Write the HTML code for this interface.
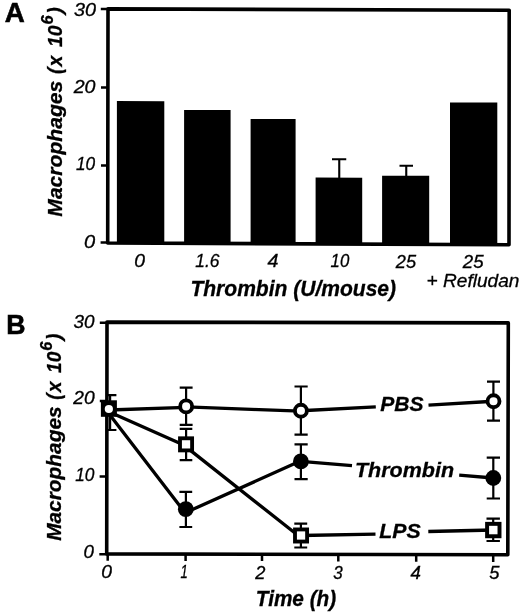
<!DOCTYPE html>
<html><head><meta charset="utf-8">
<style>
html,body{margin:0;padding:0;background:#fff;}
svg{display:block;filter:blur(0.35px);}
text{font-family:"Liberation Sans",Arial,Helvetica,sans-serif;fill:#000;}
.t{font-style:italic;stroke:#000;stroke-width:.3px;}
.b{font-style:italic;font-weight:bold;stroke:#000;stroke-width:.3px;}
.p{font-weight:bold;stroke:#000;stroke-width:.6px;}
</style></head><body>
<svg width="520" height="614" viewBox="0 0 520 614">
<rect width="520" height="614" fill="#fff"/>
<!-- Panel A -->
<g fill="#000">
<path d="M116.9 101.1L164.3 101.25L164.3 243.5377306733167L116.9 243.5377306733167Z"/>
<path d="M184.1 109.9L230.6 110.05000000000001L230.6 243.82261845386535L184.1 243.82261845386535Z"/>
<path d="M250.6 118.9L295.6 119.05000000000001L295.6 244.10453865336657L250.6 244.10453865336657Z"/>
<path d="M315.6 177.6L362.2 177.75L362.2 244.38009975062343L315.6 244.38009975062343Z"/>
<path d="M382.1 175.7L429.2 175.85L429.2 244.6620199501247L382.1 244.6620199501247Z"/>
<path d="M450 102.4L497.3 102.55000000000001L497.3 244.9498753117207L450 244.9498753117207Z"/>
</g>
<g stroke="#000" stroke-width="2.1" fill="none">
<path d="M339.25 178V159.25M332 159.25H346.25"/>
<path d="M406.25 176V165.75M399.5 165.75H413"/>
</g>
<path d="M108 8.85L509.2 10.2L509 244.7L107.7 243Z" fill="none" stroke="#000" stroke-width="3.6" stroke-linejoin="round"/>
<path stroke="#000" stroke-width="2.5" d="M100.8 9H108M101 87.6H108M101 165.5H108M100.6 242.5H108"/>
<text class="p" font-size="27" transform="translate(4.74,21.75) scale(1.026,1.016)">A</text>
<text class="t" font-size="18" transform="translate(74.03,15.65) scale(1.099,1.015)">30</text>
<text class="t" font-size="18" transform="translate(73.67,92.64) scale(1.091,1.023)">20</text>
<text class="t" font-size="18" transform="translate(76.01,170.34) scale(0.959,1.038)">10</text>
<text class="t" font-size="18" transform="translate(84.06,247.64) scale(1.114,1.023)">0</text>
<text class="t" font-size="18" transform="translate(134.20,266.76) scale(1.070,0.977)">0</text>
<text class="t" font-size="18" transform="translate(195.26,266.96) scale(0.968,0.977)">1.6</text>
<text class="t" font-size="18" transform="translate(267.60,267.20) scale(1.095,1.000)">4</text>
<text class="t" font-size="18" transform="translate(330.57,267.06) scale(0.932,0.977)">10</text>
<text class="t" font-size="18" transform="translate(395.75,267.55) scale(1.012,0.985)">25</text>
<text class="t" font-size="18" transform="translate(462.76,267.75) scale(1.037,0.985)">25</text>
<text class="t" font-size="18.6" transform="translate(426.47,286.75) scale(1.028,1.000)">+ Refludan</text>
<text class="b" font-size="21.3" transform="translate(190.42,296.20) scale(0.988,1.000)">Thrombin (U/mouse)</text>
<g transform="translate(62,217) rotate(-90) scale(1.0,1)"><text class="b" font-size="21" transform="translate(0.35,0) scale(1.004,1)">Macrophages</text><text class="b" font-size="21" transform="translate(142.95,0) scale(0.906,1)">(</text><text class="b" font-size="21" transform="translate(150.43,0) scale(0.933,1)">x</text><text class="b" font-size="21" transform="translate(169.97,0) scale(0.917,1)">10</text><text class="b" font-size="16" transform="translate(192.49,-9.3) scale(1.029,1)">6</text><text class="b" font-size="21" transform="translate(203.03,0) scale(0.965,1)">)</text></g>
<!-- Panel B -->
<text class="p" font-size="27" transform="translate(6.22,334.04) scale(0.988,1.058)">B</text>
<text class="t" font-size="18" transform="translate(73.54,327.64) scale(1.048,1.023)">30</text>
<text class="t" font-size="18" transform="translate(73.27,404.35) scale(1.067,0.996)">20</text>
<text class="t" font-size="18" transform="translate(75.16,481.29) scale(0.962,1.035)">10</text>
<text class="t" font-size="18" transform="translate(83.62,557.64) scale(1.038,1.023)">0</text>
<text class="t" font-size="18" transform="translate(101.20,577.74) scale(1.070,1.023)">0</text>
<text class="t" font-size="18" transform="translate(180.52,578.20) scale(0.729,1.056)">1</text>
<text class="t" font-size="18" transform="translate(255.25,578.80) scale(1.015,1.051)">2</text>
<text class="t" font-size="18" transform="translate(333.26,578.74) scale(0.944,1.031)">3</text>
<text class="t" font-size="18" transform="translate(410.40,579.20) scale(1.042,1.056)">4</text>
<text class="t" font-size="18" transform="translate(489.25,579.24) scale(1.020,1.059)">5</text>
<text class="b" font-size="21.3" transform="translate(255.84,606.20) scale(0.975,1.000)">Time (h)</text>
<text class="b" font-size="21.3" transform="translate(380.25,410.96) scale(0.989,0.944)">PBS</text>
<text class="b" font-size="21.3" transform="translate(354.98,476.97) scale(1.010,0.921)">Thrombin</text>
<text class="b" font-size="21.3" transform="translate(379.25,538.06) scale(1.000,0.970)">LPS</text>
<g transform="translate(61,541.2) rotate(-90) scale(0.99,1)"><text class="b" font-size="21" transform="translate(0.35,0) scale(1.004,1)">Macrophages</text><text class="b" font-size="21" transform="translate(142.95,0) scale(0.906,1)">(</text><text class="b" font-size="21" transform="translate(150.43,0) scale(0.933,1)">x</text><text class="b" font-size="21" transform="translate(169.97,0) scale(0.917,1)">10</text><text class="b" font-size="16" transform="translate(192.49,-9.3) scale(1.029,1)">6</text><text class="b" font-size="21" transform="translate(203.03,0) scale(0.965,1)">)</text></g>
<path d="M107 322.1L508.3 322.9L507.8 554.7L106.7 553.9Z" fill="none" stroke="#000" stroke-width="3.6" stroke-linejoin="round"/>
<path stroke="#000" stroke-width="2.5" d="M99.8 322.7H107M99.8 401H107M99.6 476.5H107M99.3 554.2H107"/>
<path stroke="#000" stroke-width="2.5" d="M107.7 554V560.7M185.6 554V560.9M262 554V561.1M338.3 554.3V561.4M416.2 554.4V561.7M493.2 554.6V562"/>
<g stroke="#000" stroke-width="2.2" fill="none">
<path d="M110.1 395.1V430M106 395.1H116.4M106 430H116.4"/>
<path d="M186.1 387.7V424.9M179.7 387.7H192.6M179.7 424.9H192.6"/>
<path d="M186.1 428.9V460.2M179.7 428.9H192.3M179.7 460.2H192.3"/>
<path d="M185.9 491.85V527M179.4 491.85H192.2M179.4 527H192.2"/>
<path d="M300.9 386.5V434.7M294.5 386.5H307.7M294.5 434.7H307.7"/>
<path d="M300.9 444.3V479.1M294.5 444.3H307.7M294.5 479.1H307.7"/>
<path d="M300.9 523.55V547.5M294.3 523.55H307.2M294.3 547.5H307.2"/>
<path d="M493.4 381.7V420.6M487 381.7H500M487 420.6H500"/>
<path d="M493.3 457.7V498.5M486.7 457.7H500M486.7 498.5H500"/>
<path d="M493.2 518.55V541M486.5 518.55H499.9M486.5 541H499.9"/>
</g>
<g stroke="#000" stroke-width="3.3" fill="none">
<path d="M108.9 410L186.1 407.3M186.1 406.9L300.9 411.2M300.9 410.75L375.8 406.8M428.5 405.2L493.5 401.25"/>
<path d="M105.3 409L182.4 509.2M185.8 512.5L300.9 460.8M300.9 461.4L352 465.7M459.2 475.2L493.3 478"/>
<path d="M108.9 411.8L186 446M186 446.9L301 537.8M301 535.5L375.5 534.2M428.3 531.5L493.3 530"/>
</g>
<rect x="100.9" y="400.3" width="16" height="16.5" fill="#000"/>
<circle cx="108.85" cy="409" r="4.1" fill="#fff"/>
<rect x="180.0" y="438.3" width="12.1" height="12.1" fill="#fff" stroke="#000" stroke-width="3.85"/>
<rect x="295.0" y="529.45" width="12.1" height="12.1" fill="#fff" stroke="#000" stroke-width="3.85"/>
<rect x="487.1" y="523.8499999999999" width="12.4" height="12.4" fill="#fff" stroke="#000" stroke-width="3.95"/>
<circle cx="186.15" cy="406.4" r="6" fill="#fff" stroke="#000" stroke-width="3.85"/>
<circle cx="300.9" cy="410.75" r="6" fill="#fff" stroke="#000" stroke-width="3.85"/>
<circle cx="493.5" cy="401.25" r="6" fill="#fff" stroke="#000" stroke-width="3.85"/>
<circle cx="185.8" cy="509.15" r="7.9" fill="#000"/>
<circle cx="300.9" cy="461.4" r="7.9" fill="#000"/>
<circle cx="493.3" cy="478" r="7.9" fill="#000"/>
</svg>
</body></html>
